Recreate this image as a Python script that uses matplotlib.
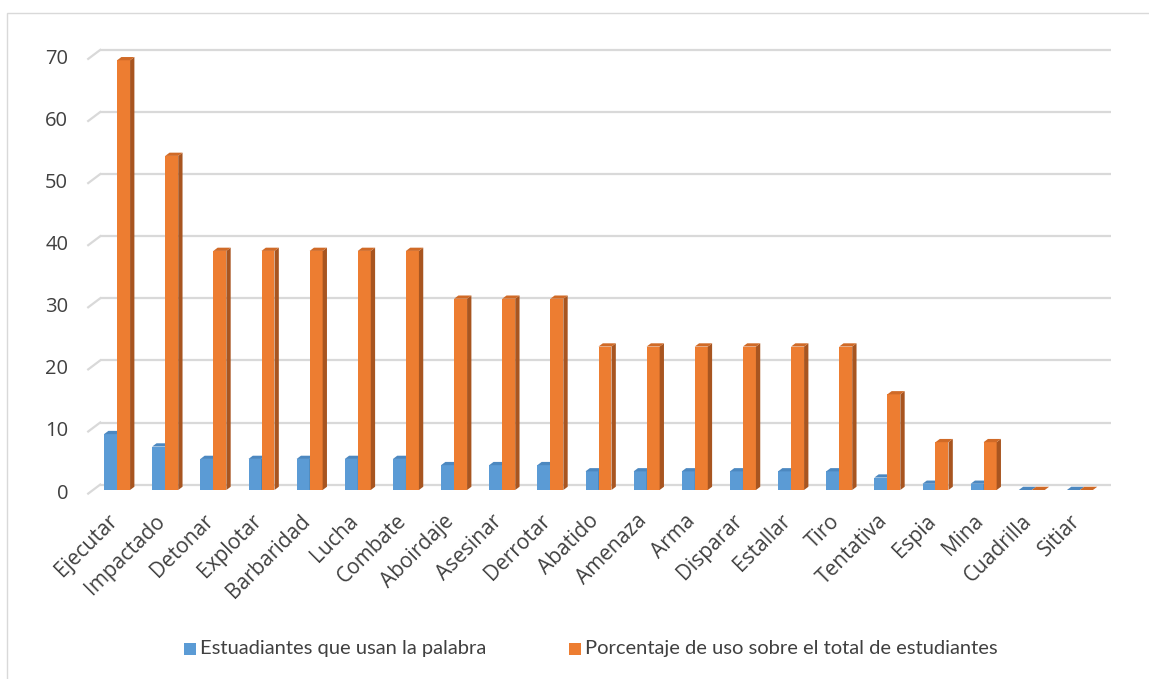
import matplotlib
matplotlib.use("Agg")
import matplotlib.pyplot as plt
from matplotlib.patches import Rectangle, Polygon
import matplotlib.transforms as mtransforms

categories = ["Ejecutar", "Impactado", "Detonar", "Explotar", "Barbaridad", "Lucha",
              "Combate", "Aboirdaje", "Asesinar", "Derrotar", "Abatido", "Amenaza",
              "Arma", "Disparar", "Estallar", "Tiro", "Tentativa", "Espia", "Mina",
              "Cuadrilla", "Sitiar"]
estudiantes = [9, 7, 5, 5, 5, 5, 5, 4, 4, 4, 3, 3, 3, 3, 3, 3, 2, 1, 1, 0, 0]
porcentaje = [69.2, 53.8, 38.5, 38.5, 38.5, 38.5, 38.5, 30.8, 30.8, 30.8,
              23.1, 23.1, 23.1, 23.1, 23.1, 23.1, 15.4, 7.7, 7.7, 0, 0]
yticks = [0, 10, 20, 30, 40, 50, 60, 70]
series_names = ["Estuadiantes que usan la palabra",
                "Porcentaje de uso sobre el total de estudiantes"]

W, H = 1149, 679
fig = plt.figure(figsize=(W / 100, H / 100), dpi=100)
fig.patch.set_facecolor("white")

# outer chart border (right and bottom edges fall outside the picture)
fig.add_artist(Rectangle((7 / W, -10 / H), (W + 20) / W, (H - 12.5 + 10) / H,
                         transform=fig.transFigure, fill=False,
                         edgecolor="#D9D9D9", linewidth=1.0, clip_on=False))

left_px, right_px, base_px, top_px = 93, 1104, 490, 55.3
ax = fig.add_axes([left_px / W, 1 - base_px / H, (right_px - left_px) / W,
                   (base_px - top_px) / H])
ax.set_xlim(-0.5, len(categories) - 0.5)
ax.set_ylim(0, 70)
ax.axis("off")

sx = (right_px - left_px) / len(categories)   # px per category unit
sy = (base_px - top_px) / 70.0                # px per value unit


def dx(p):
    return p / sx


def dy(p):
    return p / sy


# depth geometry (pixels)
Dx, Dy = 12.0, 9.0
fx, fy = -0.4 * Dx, -0.4 * Dy     # front edge offset
bx, by = 0.6 * Dx, 0.6 * Dy       # back wall offset
ddx, ddy = 0.36 * Dx, 0.36 * Dy   # bar depth

grid_c = "#D9D9D9"
x0 = -0.5
x1 = len(categories) - 0.5
for v in yticks:
    ax.plot([x0 + dx(bx), x1 + dx(bx)], [v + dy(by), v + dy(by)],
            color=grid_c, lw=1.6, clip_on=False, zorder=1, solid_capstyle="butt")
    ax.plot([x0 + dx(fx), x0 + dx(bx)], [v + dy(fy), v + dy(by)],
            color=grid_c, lw=1.6, clip_on=False, zorder=1)
    ax.text(x0 + dx(fx - 20), v + dy(fy), str(v), ha="right", va="center",
            fontsize=14.5, color="#404040", family="Open Sans", clip_on=False)

w = 0.27
styles = [
    ("#5B9BD5", "#41719C", "#4C88C0"),
    ("#ED7D31", "#A85520", "#D06A27"),
]


def bar3d(xl, v, cols):
    front, side, top = cols
    ax.add_patch(Rectangle((xl, 0), w, v, facecolor=front, edgecolor="none", zorder=3))
    ax.add_patch(Polygon([(xl + w, 0), (xl + w + dx(ddx), dy(ddy)),
                          (xl + w + dx(ddx), v + dy(ddy)), (xl + w, v)],
                         closed=True, facecolor=side, edgecolor="none", zorder=3))
    ax.add_patch(Polygon([(xl, v), (xl + dx(ddx), v + dy(ddy)),
                          (xl + w + dx(ddx), v + dy(ddy)), (xl + w, v)],
                         closed=True, facecolor=top, edgecolor="none", zorder=3))


for i in range(len(categories)):
    bar3d(i - w, estudiantes[i], styles[0])
    bar3d(i, porcentaje[i], styles[1])

# category labels
trans = mtransforms.blended_transform_factory(ax.transData, fig.transFigure)
for i, c in enumerate(categories):
    ax.text(i - dx(3), 1 - 518 / H, c, transform=trans, rotation=45,
            rotation_mode="anchor", ha="right", va="center", fontsize=15,
            color="#404040", family="Open Sans", clip_on=False)

# legend
ly = 1 - 648.5 / H
sq = 12
for (xs, name, cols) in [(184, series_names[0], styles[0]), (569, series_names[1], styles[1])]:
    fig.add_artist(Rectangle((xs / W, ly - sq / 2 / H), sq / W, sq / H,
                             transform=fig.transFigure, facecolor=cols[0],
                             edgecolor="none"))
    fig.text((xs + sq + 4) / W, ly, name, ha="left", va="center", fontsize=14.5,
             color="#404040", family="Lato")

fig.savefig("out.png", dpi=100, facecolor="white")
